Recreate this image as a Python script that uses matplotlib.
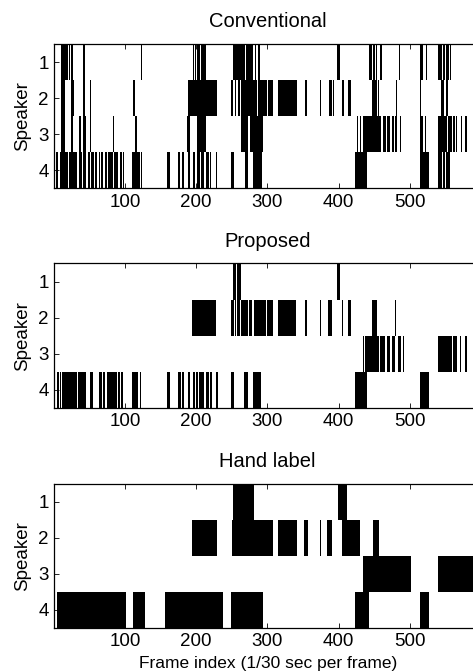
"""
Speaker activity per frame: conventional detector, proposed detector and hand label.
"""

import matplotlib
matplotlib.use("Agg")
import matplotlib.pyplot as plt

plt.rcParams["font.family"] = ["Liberation Sans", "DejaVu Sans"]

N_FRAMES = 600
SPEAKERS = [1, 2, 3, 4]
X_TICKS = [100, 200, 300, 400, 500]
TITLES = ["Conventional", "Proposed", "Hand label"]

# active frame runs (first, last) per speaker
conv_spk1 = [(11, 12), (14, 16), (18, 20), (22, 22), (25, 27), (42, 43), (51, 51),
             (123, 123), (196, 196), (199, 199), (201, 205), (207, 213),
             (252, 262), (264, 268), (270, 276), (278, 279), (283, 284), (288, 289),
             (399, 402), (444, 447), (449, 451), (453, 454), (459, 461), (486, 486),
             (515, 518), (523, 524), (540, 545), (547, 549), (551, 555), (557, 557)]
conv_spk2 = [(11, 12), (14, 15), (24, 28), (41, 43), (51, 52), (112, 113), (189, 190),
             (191, 229), (250, 251), (255, 256), (259, 261), (264, 285),
             (287, 299), (301, 308), (315, 341), (353, 355), (374, 375), (387, 390),
             (393, 393), (406, 407), (414, 417), (447, 454), (456, 456), (481, 481),
             (515, 515), (545, 548), (552, 554)]
conv_spk3 = [(11, 15), (24, 27), (36, 38), (41, 45), (51, 52), (84, 84), (114, 117),
             (187, 191), (201, 214), (264, 273), (276, 294), (426, 427), (430, 431),
             (435, 456), (458, 459), (463, 466), (469, 472), (475, 477), (480, 481),
             (487, 488), (515, 518), (522, 523), (540, 552), (554, 559), (561, 563),
             (565, 566), (572, 573), (578, 580)]
conv_spk4 = [(4, 6), (9, 20), (22, 26), (28, 32), (36, 39), (41, 45), (49, 50),
             (53, 56), (58, 60), (64, 65), (67, 69), (72, 74), (77, 83), (85, 90),
             (93, 95), (97, 98), (111, 116), (118, 121), (123, 123), (159, 163),
             (175, 177), (180, 182), (189, 191), (196, 198), (201, 205), (207, 210),
             (215, 217), (220, 221), (228, 229), (250, 252), (269, 273), (280, 292),
             (423, 439), (515, 527), (540, 545), (547, 549), (552, 556)]

prop_spk1 = [(252, 256), (258, 262), (398, 402)]
prop_spk2 = [(194, 228), (250, 253), (255, 256), (258, 261), (264, 272), (275, 278),
             (282, 298), (300, 308), (315, 340), (353, 355), (374, 375), (386, 390),
             (405, 406), (414, 417), (448, 454), (480, 480)]
prop_spk3 = [(435, 436), (438, 457), (459, 465), (469, 472), (475, 479), (484, 487),
             (491, 492), (540, 559), (562, 566), (571, 572), (578, 580)]
prop_spk4 = [(5, 7), (9, 10), (12, 32), (35, 37), (39, 45), (51, 55), (64, 67),
             (69, 72), (75, 88), (90, 93), (95, 97), (111, 118), (121, 122),
             (159, 163), (175, 178), (181, 183), (189, 191), (196, 198), (200, 202),
             (204, 207), (209, 211), (215, 217), (220, 222), (228, 230), (249, 252),
             (268, 273), (281, 291), (423, 439), (515, 527)]

hand_spk1 = [(252, 281), (400, 412)]
hand_spk2 = [(195, 229), (251, 308), (316, 341), (352, 356), (374, 375), (385, 390),
             (406, 430), (449, 457)]
hand_spk3 = [(435, 501), (540, 600)]
hand_spk4 = [(5, 101), (112, 128), (157, 237), (249, 293), (423, 442), (515, 527)]

PANELS = [
    [conv_spk1, conv_spk2, conv_spk3, conv_spk4],
    [prop_spk1, prop_spk2, prop_spk3, prop_spk4],
    [hand_spk1, hand_spk2, hand_spk3, hand_spk4],
]


def draw_panel(ax, runs_per_speaker, title):
    # each frame k covers [k - 0.5, k + 0.5], each speaker row covers one unit
    for spk, runs in zip(SPEAKERS, runs_per_speaker):
        spans = [(first - 0.5, last - first + 1) for first, last in runs]
        ax.broken_barh(spans, (spk - 0.5, 1.0), facecolors="black",
                       edgecolor="none", linewidth=0)
    ax.set_xlim(0.5, N_FRAMES + 0.5)
    ax.set_ylim(len(SPEAKERS) + 0.5, 0.5)
    ax.set_xticks(X_TICKS)
    ax.set_yticks(SPEAKERS)
    ax.tick_params(direction="in", length=3.5, width=0.6, labelsize=13.5,
                   top=True, right=True, pad=4)
    ax.set_ylabel("Speaker", fontsize=13.5, labelpad=5)
    ax.set_title(title, fontsize=14.5, pad=12)
    for side in ["left", "top", "bottom"]:
        ax.spines[side].set_linewidth(0.9)
        ax.spines[side].set_zorder(3)
    ax.spines["right"].set_visible(False)


def main():
    fig = plt.figure(figsize=(4.73, 6.72), dpi=100)
    left = 54.2 / 473
    width = 427 / 473
    bottoms = [0.7198, 0.3933, 0.0659]
    height = 0.2146
    for i, (runs, title) in enumerate(zip(PANELS, TITLES)):
        ax = fig.add_axes([left, bottoms[i], width, height])
        draw_panel(ax, runs, title)
        if i == len(PANELS) - 1:
            ax.set_xlabel("Frame index (1/30 sec per frame)", fontsize=12.5, labelpad=4)
    fig.savefig("out.png", dpi=100)


if __name__ == "__main__":
    main()
